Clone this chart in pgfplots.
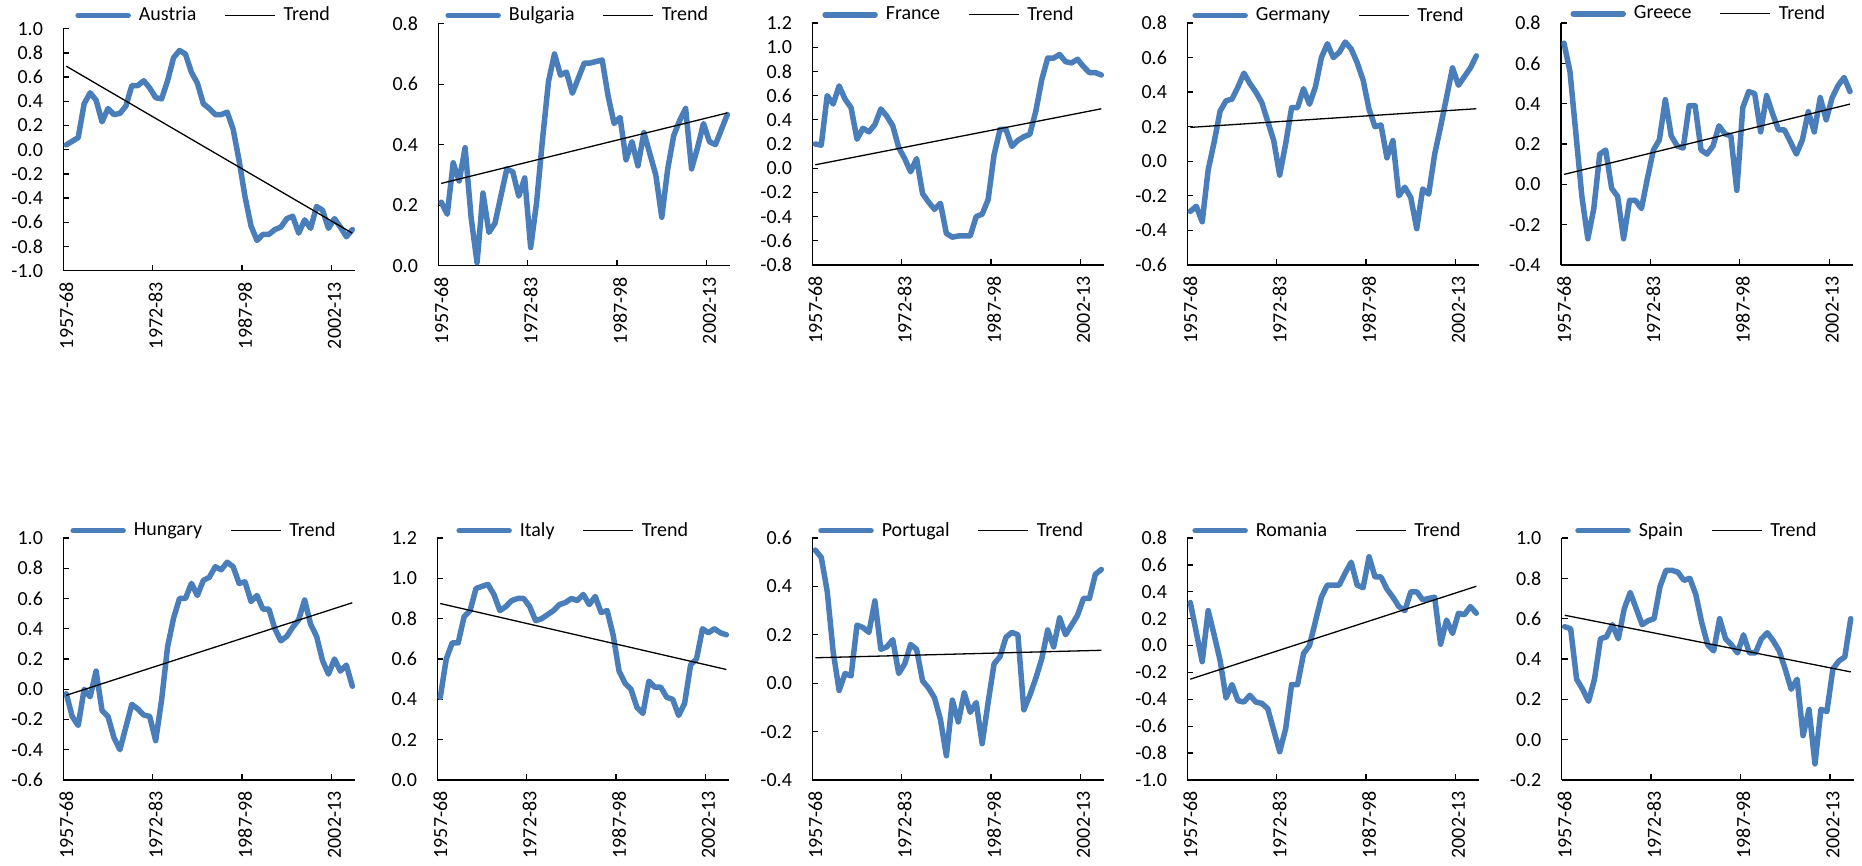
\documentclass[border=0pt]{standalone}
\usepackage{pgfplots}
\pgfplotsset{compat=1.18}
\usepackage{pgfplotstable}
\usepackage{fontspec}
\setmainfont{Carlito}

\definecolor{serie}{RGB}{74,126,187}

% rolling windows 1957-68 ... 2005-16, one row per window
\pgfplotstableread{
x    Austria Bulgaria France Germany Greece Hungary Italy Portugal Romania Spain
0.5   0.04  0.21  0.20 -0.29  0.70 -0.03  0.41  0.55  0.32  0.56
1.5   0.07  0.17  0.19 -0.26  0.56 -0.18  0.60  0.52  0.10  0.55
2.5   0.10  0.34  0.60 -0.35  0.25 -0.24  0.68  0.38 -0.12  0.30
3.5   0.38  0.28  0.53 -0.05 -0.06  0.00  0.68  0.13  0.26  0.25
4.5   0.47  0.39  0.68  0.11 -0.27 -0.05  0.81 -0.03  0.08  0.19
5.5   0.41  0.16  0.57  0.29 -0.12  0.12  0.84  0.04 -0.11  0.30
6.5   0.23  0.01  0.50  0.35  0.15 -0.14  0.95  0.03 -0.39  0.50
7.5   0.34  0.24  0.24  0.36  0.17 -0.18  0.96  0.24 -0.29  0.51
8.5   0.29  0.11  0.33  0.43 -0.02 -0.32  0.97  0.23 -0.41  0.57
9.5   0.30  0.14  0.30  0.51 -0.06 -0.40  0.92  0.21 -0.42  0.50
10.5  0.36  0.23  0.36  0.45 -0.27 -0.25  0.84  0.34 -0.37  0.65
11.5  0.53  0.32  0.49  0.40 -0.08 -0.10  0.86  0.14 -0.42  0.73
12.5  0.53  0.31  0.43  0.34 -0.08 -0.13  0.89  0.15 -0.43  0.65
13.5  0.57  0.23  0.35  0.23 -0.12 -0.17  0.90  0.18 -0.47  0.57
14.5  0.51  0.29  0.17  0.12  0.03 -0.18  0.90  0.04 -0.63  0.59
15.5  0.43  0.06  0.08 -0.08  0.17 -0.34  0.86  0.08 -0.79  0.60
16.5  0.42  0.21 -0.03  0.10  0.22 -0.07  0.79  0.16 -0.62  0.76
17.5  0.57  0.42  0.08  0.31  0.42  0.28  0.80  0.14 -0.29  0.84
18.5  0.76  0.61 -0.21  0.31  0.24  0.47  0.82  0.01 -0.29  0.84
19.5  0.82  0.70 -0.28  0.42  0.19  0.60  0.84 -0.02 -0.06  0.83
20.5  0.79  0.63 -0.34  0.33  0.18  0.60  0.87 -0.06  0.00  0.79
21.5  0.64  0.64 -0.29  0.43  0.39  0.70  0.88 -0.15  0.18  0.80
22.5  0.55  0.57 -0.54  0.60  0.39  0.62  0.90 -0.30  0.36  0.72
23.5  0.38  0.62 -0.57  0.68  0.17  0.72  0.89 -0.07  0.45  0.58
24.5  0.34  0.67 -0.56  0.60  0.15  0.74  0.92 -0.16  0.45  0.47
25.5  0.29  0.67 -0.56  0.63  0.19  0.81  0.87 -0.04  0.45  0.44
26.5  0.29  0.675 -0.56 0.69  0.29  0.79  0.91 -0.12  0.54  0.60
27.5  0.31  0.68 -0.40  0.65  0.25  0.84  0.83 -0.08  0.62  0.50
28.5  0.17  0.56 -0.38  0.57  0.24  0.81  0.84 -0.25  0.45  0.47
29.5 -0.09  0.47 -0.26  0.47 -0.03  0.70  0.72 -0.08  0.43  0.43
30.5 -0.39  0.49  0.11  0.30  0.38  0.71  0.54  0.08  0.66  0.52
31.5 -0.63  0.35  0.32  0.20  0.46  0.58  0.48  0.11  0.51  0.43
32.5 -0.75  0.41  0.32  0.21  0.45  0.62  0.45  0.19  0.51  0.43
33.5 -0.70  0.33  0.18  0.02  0.26  0.53  0.36  0.21  0.42  0.50
34.5 -0.70  0.44  0.23  0.12  0.44  0.53  0.33  0.20  0.36  0.53
35.5 -0.66  0.37  0.26 -0.20  0.35  0.40  0.49 -0.11  0.29  0.49
36.5 -0.64  0.30  0.28 -0.15  0.27  0.32  0.46 -0.05  0.26  0.44
37.5 -0.57  0.16  0.47 -0.21  0.27  0.35  0.46  0.02  0.40  0.35
38.5 -0.55  0.32  0.73 -0.39  0.21  0.41  0.41  0.10  0.40  0.25
39.5 -0.69  0.43  0.91 -0.16  0.15  0.46  0.40  0.22  0.34  0.30
40.5 -0.58  0.48  0.91 -0.19  0.22  0.59  0.32  0.15  0.35  0.02
41.5 -0.65  0.52  0.94  0.04  0.36  0.43  0.38  0.27  0.36  0.15
42.5 -0.47  0.32  0.88  0.20  0.26  0.35  0.57  0.20  0.01 -0.12
43.5 -0.50  0.39  0.87  0.37  0.43  0.19  0.60  0.24  0.19  0.15
44.5 -0.65  0.47  0.90  0.54  0.32  0.10  0.75  0.28  0.09  0.14
45.5 -0.57  0.41  0.84  0.44  0.43  0.20  0.73  0.35  0.24  0.35
46.5 -0.64  0.40  0.79  0.49  0.49  0.12  0.75  0.35  0.23  0.39
47.5 -0.72  0.45  0.79  0.54  0.53  0.16  0.73  0.45  0.29  0.41
48.5 -0.66  0.50  0.77  0.61  0.46  0.02  0.72  0.47  0.24  0.60
}\data

% end points of the linear trend lines
\pgfplotstableread{
x    Austria Bulgaria France Germany Greece Hungary Italy Portugal Romania Spain
0.5   0.69  0.272 0.028 0.196 0.049 -0.04  0.875 0.105 -0.25  0.617
48.5 -0.69  0.505 0.491 0.304 0.398  0.572 0.548 0.136  0.441 0.336
}\trend

\pgfplotsset{
  panel/.style={
    scale only axis, width=146pt, height=121pt,
    xmin=0, xmax=49, clip=false,
    axis lines=left, axis line style={-, line width=0.65pt, black},
    tick align=inside, major tick length=3pt,
    tick style={line width=0.65pt, black},
    xtick={0,15,30,45}, xticklabels={},
    extra x ticks={0.5,15.5,30.5,45.5},
    extra x tick labels={1957-68,1972-83,1987-98,2002-13},
    extra x tick style={major tick length=0pt},
    xticklabel style={rotate=90, anchor=east, inner sep=0pt},
    xticklabel shift=5.5pt,
    yticklabel style={inner sep=0pt,
      /pgf/number format/.cd, fixed, fixed zerofill, precision=1,
      assume math mode=true},
    yticklabel shift=10pt,
    tick label style={font=\fontsize{10}{12}\selectfont},
    legend columns=2,
    legend cell align=left,
    legend style={draw=none, fill=none, anchor=west, inner sep=0pt,
      font=\fontsize{10}{12}\selectfont,
      /tikz/every even column/.append style={column sep=12pt},
      /tikz/every odd column/.append style={column sep=2pt}},
    legend image code/.code={\draw[#1] (0pt,0pt) -- (25pt,0pt);},
  },
  country/.style={color=serie, line width=2.75pt, line join=round, line cap=round},
  trendl/.style={black, line width=0.65pt},
}

\newcommand{\panel}[1]{%
  \addplot[country] table[x=x, y=#1] {\data};
  \addlegendentry{#1}
  \addplot[trendl] table[x=x, y=#1] {\trend};
  \addlegendentry{Trend}
}

\begin{document}
\begin{tikzpicture}
\path[use as bounding box] (0,0) rectangle (931pt,433pt);

% top row
\begin{axis}[panel, at={(31.65pt,297.65pt)}, anchor=south west,
  ymin=-1, ymax=1, ytick={-1,-0.8,-0.6,-0.4,-0.2,0,0.2,0.4,0.6,0.8,1},
  legend style={at={(0.040,1.055)}}]
\panel{Austria}
\end{axis}

\begin{axis}[panel, at={(219.15pt,300.15pt)}, anchor=south west,
  ymin=0, ymax=0.8, ytick={0,0.2,0.4,0.6,0.8},
  legend style={at={(0.023,1.034)}}]
\panel{Bulgaria}
\end{axis}

\begin{axis}[panel, at={(406.15pt,300.5pt)}, anchor=south west,
  ymin=-0.8, ymax=1.2, ytick={-0.8,-0.6,-0.4,-0.2,0,0.2,0.4,0.6,0.8,1,1.2},
  legend style={at={(0.033,1.034)}}]
\panel{France}
\end{axis}

\begin{axis}[panel, at={(593.65pt,300.5pt)}, anchor=south west,
  ymin=-0.6, ymax=0.8, ytick={-0.6,-0.4,-0.2,0,0.2,0.4,0.6,0.8},
  legend style={at={(0.016,1.030)}}]
\panel{Germany}
\end{axis}

\begin{axis}[panel, at={(780.5pt,300.5pt)}, anchor=south west,
  ymin=-0.4, ymax=0.8, ytick={-0.4,-0.2,0,0.2,0.4,0.6,0.8},
  legend style={at={(0.031,1.038)}}]
\panel{Greece}
\end{axis}

% bottom row
\begin{axis}[panel, at={(31.65pt,43pt)}, anchor=south west,
  ymin=-0.6, ymax=1, ytick={-0.6,-0.4,-0.2,0,0.2,0.4,0.6,0.8,1},
  legend style={at={(0.023,1.030)}}]
\panel{Hungary}
\end{axis}

\begin{axis}[panel, at={(218.65pt,43pt)}, anchor=south west,
  ymin=0, ymax=1.2, ytick={0,0.2,0.4,0.6,0.8,1,1.2},
  legend style={at={(0.064,1.030)}}]
\panel{Italy}
\end{axis}

\begin{axis}[panel, at={(406.15pt,43pt)}, anchor=south west,
  ymin=-0.4, ymax=0.6, ytick={-0.4,-0.2,0,0.2,0.4,0.6},
  legend style={at={(0.019,1.030)}}]
\panel{Portugal}
\end{axis}

\begin{axis}[panel, at={(593.65pt,43pt)}, anchor=south west,
  ymin=-1, ymax=0.8, ytick={-1,-0.8,-0.6,-0.4,-0.2,0,0.2,0.4,0.6,0.8},
  legend style={at={(0.016,1.030)}}]
\panel{Romania}
\end{axis}

\begin{axis}[panel, at={(780.85pt,43pt)}, anchor=south west,
  ymin=-0.2, ymax=1, ytick={-0.2,0,0.2,0.4,0.6,0.8,1},
  legend style={at={(0.045,1.030)}}]
\panel{Spain}
\end{axis}

\end{tikzpicture}
\end{document}
